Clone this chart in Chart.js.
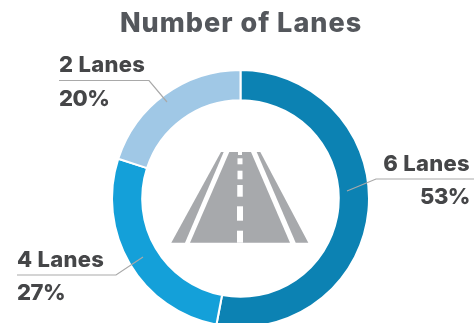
<!DOCTYPE html>
<html>
<head>
<meta charset="utf-8">
<title>Number of Lanes</title>
<script src="https://cdn.jsdelivr.net/npm/chart.js@4"></script>
<style>
    html, body { margin: 0; padding: 0; background: #fff; overflow: hidden; }
    /* the ring runs off the bottom edge, so the canvas is taller than the frame */
    #wrap { width: 474px; height: 323px; position: relative; overflow: hidden; }
</style>
</head>
<body>
<div id="wrap"><canvas id="lanesChart" width="474" height="340"></canvas></div>
<script>
const categories = ["6 Lanes", "4 Lanes", "2 Lanes"];
const shares = [53, 27, 20];
const sliceColors = ["#0c82b3", "#14a0d9", "#a0c8e6"];

// where each callout sits, same order as categories
const callouts = [
    { x: 470, align: "right", nameY: 171, valueY: 204, line: [[474, 179], [376, 179], [347, 191]] },
    { x: 17, align: "left", nameY: 267, valueY: 300, line: [[17, 275], [116, 275], [143, 257]] },
    { x: 59, align: "left", nameY: 72, valueY: 106, line: [[59, 80.5], [149, 80.5], [167, 102]] }
];

const FONT = "Inter, 'Open Sans', sans-serif";

function polygon(c, pts) {
    c.beginPath();
    pts.forEach((p, i) => i ? c.lineTo(p[0], p[1]) : c.moveTo(p[0], p[1]));
    c.closePath();
    c.fill();
}

// road pictogram in the middle of the ring
const roadIcon = {
    id: "roadIcon",
    afterDatasetsDraw(chart) {
        const c = chart.ctx;
        c.save();
        c.fillStyle = "#a7a9ac";
        polygon(c, [[221, 152], [223.7, 152], [185, 242.7], [171.3, 242.7]]);
        polygon(c, [[229.3, 152], [251, 152], [290, 242.7], [190, 242.7]]);
        polygon(c, [[256.7, 152], [260.3, 152], [308.3, 242.7], [295.7, 242.7]]);
        c.fillStyle = "#fff";
        [[152, 155, 4], [158.3, 164.3, 5], [170.7, 179.3, 5], [185, 196.7, 5.5], [206.3, 220.7, 6], [230.7, 242.7, 6]]
            .forEach(d => c.fillRect(240 - d[2] / 2, d[0], d[2], d[1] - d[0]));
        c.restore();
    }
};

// heading, leader lines and the name / percent text
const calloutLabels = {
    id: "calloutLabels",
    afterDatasetsDraw(chart) {
        const c = chart.ctx;
        c.save();
        c.textBaseline = "alphabetic";

        c.fillStyle = "#54575c";
        c.font = "800 27px " + FONT;
        c.letterSpacing = "1px";
        c.textAlign = "center";
        c.fillText("Number of Lanes", 241, 32);

        c.font = "800 22px " + FONT;
        callouts.forEach((o, i) => {
            c.strokeStyle = "#a9a9a9";
            c.lineWidth = 1.2;
            c.beginPath();
            o.line.forEach((p, j) => j ? c.lineTo(p[0], p[1]) : c.moveTo(p[0], p[1]));
            c.stroke();

            c.fillStyle = "#454648";
            c.textAlign = o.align;
            c.letterSpacing = "0.3px";
            c.fillText(categories[i], o.x, o.nameY);
            c.letterSpacing = "-0.5px";
            c.fillText(shares[i] + "%", o.x, o.valueY);
        });
        c.restore();
    }
};

new Chart(document.getElementById("lanesChart").getContext("2d"), {
    type: "doughnut",
    data: {
        labels: categories,
        datasets: [{
            data: shares,
            backgroundColor: sliceColors,
            borderColor: "#fff",
            borderWidth: 2
        }]
    },
    options: {
        responsive: false,
        animation: false,
        cutout: "76.5%",
        layout: { padding: { left: 111, right: 104, top: 69, bottom: 12 } },
        plugins: {
            legend: { display: false },
            tooltip: { enabled: false },
            title: { display: false }
        }
    },
    plugins: [roadIcon, calloutLabels]
});
</script>
</body>
</html>
